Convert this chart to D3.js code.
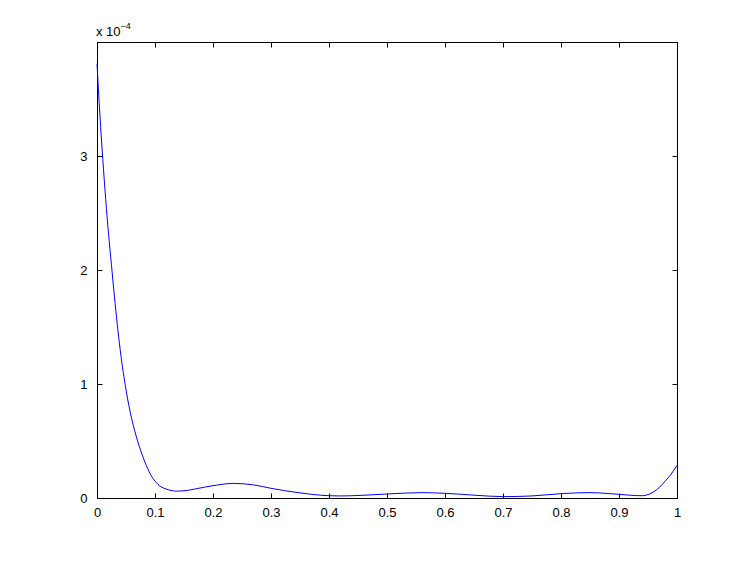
<!DOCTYPE html>
<html lang="en">
<head>
<meta charset="utf-8">
<title>curve</title>
<script src="https://cdn.jsdelivr.net/npm/d3@7"></script>
<style>
  body { margin: 0; background: #fff; }
  text { font-family: "Liberation Sans", Arial, sans-serif; font-size: 13px; fill: #000; }
</style>
</head>
<body>
<script>
// sampled curve, y in units of 1e-4
var xs = [0, 0.005, 0.01, 0.015, 0.02, 0.025, 0.03, 0.035, 0.04, 0.045, 0.05, 0.055, 0.06,
  0.065, 0.07, 0.075, 0.08, 0.085, 0.09, 0.095, 0.1, 0.105, 0.11, 0.12, 0.13, 0.137, 0.15, 0.17,
  0.2, 0.235, 0.27, 0.3, 0.35, 0.4, 0.42, 0.45, 0.5, 0.56, 0.6, 0.65, 0.7, 0.75, 0.8, 0.85,
  0.9, 0.93, 0.94, 0.95, 0.96, 0.97, 0.98, 0.99, 1.0];
var ys = [3.81, 3.36, 2.97, 2.62, 2.31, 2.04, 1.77, 1.52, 1.3, 1.11, 0.95, 0.81, 0.69,
  0.59, 0.5, 0.42, 0.35, 0.285, 0.23, 0.183, 0.148, 0.12, 0.1, 0.077, 0.064, 0.06, 0.063, 0.08,
  0.108, 0.128, 0.115, 0.085, 0.045, 0.02, 0.018, 0.022, 0.035, 0.047, 0.041, 0.025, 0.012, 0.018, 0.038, 0.047,
  0.032, 0.021, 0.02, 0.03, 0.055, 0.095, 0.15, 0.21, 0.287];
var xTicks = [0, 0.1, 0.2, 0.3, 0.4, 0.5, 0.6, 0.7, 0.8, 0.9, 1];
var yTicks = [0, 1, 2, 3];

var w = 747, h = 561;
var mL = 97, mR = 677, mT = 42, mB = 498;

var svg = d3.select("body").append("svg")
  .attr("width", w)
  .attr("height", h);

var x = d3.scaleLinear().domain([0, 1]).range([mL, mR]);
var y = d3.scaleLinear().domain([0, 4]).range([mB, mT]);

// frame
svg.append("rect")
  .attr("x", mL + 0.5).attr("y", mT + 0.5)
  .attr("width", mR - mL).attr("height", mB - mT)
  .attr("fill", "none").attr("stroke", "#000").attr("stroke-width", 1);

// curve
var pts = xs.map(function(d, i) { return [d, ys[i]]; });
var line = d3.line()
  .x(function(d) { return x(d[0]); })
  .y(function(d) { return y(d[1]); })
  .curve(d3.curveMonotoneX);

svg.append("path")
  .datum(pts)
  .attr("d", line)
  .attr("fill", "none")
  .attr("stroke", "#0000ff")
  .attr("stroke-width", 1);

// axes, ticks inward on all sides like matlab
var tl = 5;
svg.append("g")
  .attr("transform", "translate(0," + (mB + 0.5) + ")")
  .call(d3.axisBottom(x).tickValues(xTicks).tickSizeInner(-tl).tickSizeOuter(0).tickPadding(9)
    .tickFormat(function(d) { return d === 0 || d === 1 ? d3.format("d")(d) : d3.format(".1f")(d); }));
svg.append("g")
  .attr("transform", "translate(0," + (mT + 0.5) + ")")
  .call(d3.axisTop(x).tickValues(xTicks).tickSizeInner(-tl).tickSizeOuter(0).tickFormat(""));
svg.append("g")
  .attr("transform", "translate(" + (mL + 0.5) + ",0)")
  .call(d3.axisLeft(y).tickValues(yTicks).tickSizeInner(-tl).tickSizeOuter(0).tickPadding(10)
    .tickFormat(d3.format("d")));
svg.append("g")
  .attr("transform", "translate(" + (mR + 0.5) + ",0)")
  .call(d3.axisRight(y).tickValues(yTicks).tickSizeInner(-tl).tickSizeOuter(0).tickFormat(""));

svg.selectAll(".domain").remove();
svg.selectAll(".tick line").attr("stroke", "#000");
svg.selectAll(".tick text").attr("font-size", 13).attr("font-family", "Liberation Sans, Arial, sans-serif").attr("fill", "#000");

// exponent label
var ex = svg.append("text").attr("x", 96).attr("y", 36);
ex.append("tspan").text("x 10");
ex.append("tspan").attr("dy", -7).attr("font-size", 9).text("\u22124");
</script>
</body>
</html>
